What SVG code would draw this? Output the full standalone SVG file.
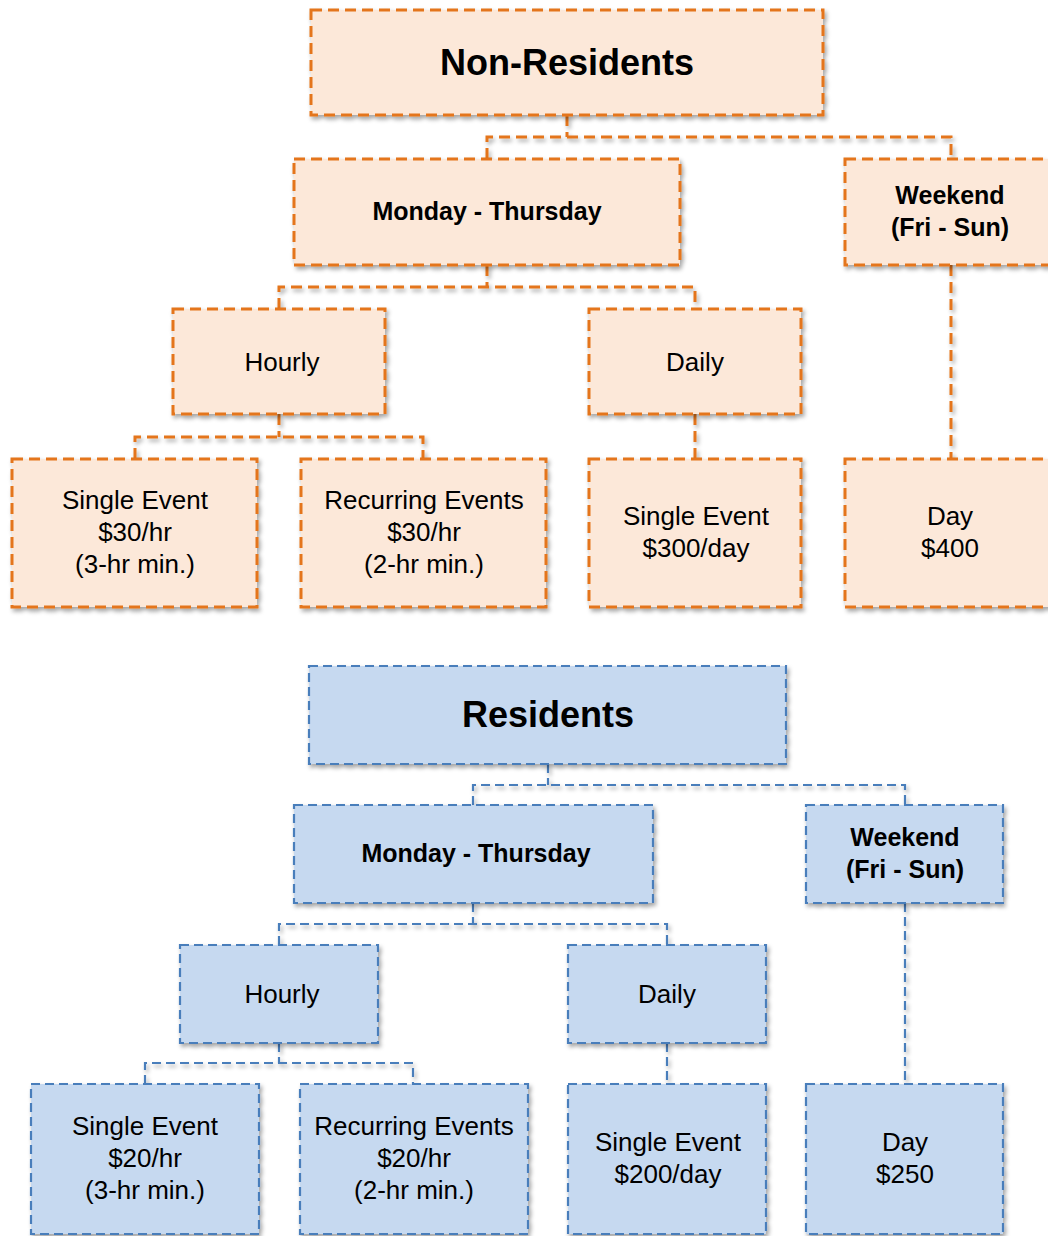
<svg xmlns="http://www.w3.org/2000/svg" width="1048" height="1236" viewBox="0 0 1048 1236">
<defs>
<filter id="sh" filterUnits="userSpaceOnUse" x="0" y="0" width="1048" height="1236">
<feDropShadow dx="2" dy="3" stdDeviation="2" flood-color="#000" flood-opacity="0.35"/>
</filter>
<style>
.o{fill:#FCE8D9;stroke:#E4741A;stroke-width:3;stroke-dasharray:11 6;filter:url(#sh)}
.b{fill:#C6D9F0;stroke:#4A7EBB;stroke-width:2.2;stroke-dasharray:9 5;filter:url(#sh)}
.oc{fill:none;stroke:#E4741A;stroke-width:3;stroke-dasharray:11 6;filter:url(#sh)}
.bc{fill:none;stroke:#4A7EBB;stroke-width:2.2;stroke-dasharray:9 5;filter:url(#sh)}
text{font-family:"Liberation Sans",Arial,sans-serif;fill:#000;text-anchor:middle;font-size:26px}
.t{font-size:36px;font-weight:bold}
.h{font-weight:bold;font-size:25px}
</style>
</defs>
<rect width="1048" height="1236" fill="#fff"/>
<g id="connectors">
<path class="oc" d="M567,115 V137 M487,159 V137 H951 V159"/>
<path class="oc" d="M487,265 V287 M279,309 V287 H695 V309"/>
<path class="oc" d="M279,414 V437 M135,459 V437 H423 V459"/>
<path class="oc" d="M695,414 V459"/>
<path class="oc" d="M951,265 V459"/>
<path class="bc" d="M548,764 V785 M473,805 V785 H905 V805"/>
<path class="bc" d="M473,903 V924 M279,945 V924 H667 V945"/>
<path class="bc" d="M279,1043 V1063 M145,1084 V1063 H413 V1084"/>
<path class="bc" d="M667,1043 V1084"/>
<path class="bc" d="M905,903 V1084"/>
</g>
<g id="nonres"><rect class="o" x="311" y="10" width="512" height="105"/><text class="t" x="567" y="75">Non-Residents</text></g>
<g id="o-monthu"><rect class="o" x="294" y="159" width="386" height="106"/><text class="h" x="487" y="220">Monday - Thursday</text></g>
<g id="o-weekend"><rect class="o" x="845" y="159" width="212" height="106"/><text class="h" x="950" y="204">Weekend</text><text class="h" x="950" y="236">(Fri - Sun)</text></g>
<g id="o-hourly"><rect class="o" x="173" y="309" width="212" height="105"/><text x="282" y="371">Hourly</text></g>
<g id="o-daily"><rect class="o" x="589" y="309" width="212" height="105"/><text x="695" y="371">Daily</text></g>
<g id="o-single"><rect class="o" x="12" y="459" width="245" height="148"/><text x="135" y="509">Single Event</text><text x="135" y="541">$30/hr</text><text x="135" y="573">(3-hr min.)</text></g>
<g id="o-recur"><rect class="o" x="301" y="459" width="245" height="148"/><text x="424" y="509">Recurring Events</text><text x="424" y="541">$30/hr</text><text x="424" y="573">(2-hr min.)</text></g>
<g id="o-singleday"><rect class="o" x="589" y="459" width="212" height="148"/><text x="696" y="525">Single Event</text><text x="696" y="557">$300/day</text></g>
<g id="o-day"><rect class="o" x="845" y="459" width="212" height="148"/><text x="950" y="525">Day</text><text x="950" y="557">$400</text></g>

<g id="res"><rect class="b" x="309" y="666" width="477" height="98"/><text class="t" x="548" y="727">Residents</text></g>
<g id="b-monthu"><rect class="b" x="294" y="805" width="359" height="98"/><text class="h" x="476" y="862">Monday - Thursday</text></g>
<g id="b-weekend"><rect class="b" x="806" y="805" width="197" height="98"/><text class="h" x="905" y="846">Weekend</text><text class="h" x="905" y="878">(Fri - Sun)</text></g>
<g id="b-hourly"><rect class="b" x="180" y="945" width="198" height="98"/><text x="282" y="1003">Hourly</text></g>
<g id="b-daily"><rect class="b" x="568" y="945" width="198" height="98"/><text x="667" y="1003">Daily</text></g>
<g id="b-single"><rect class="b" x="31" y="1084" width="228" height="150"/><text x="145" y="1135">Single Event</text><text x="145" y="1167">$20/hr</text><text x="145" y="1199">(3-hr min.)</text></g>
<g id="b-recur"><rect class="b" x="300" y="1084" width="228" height="150"/><text x="414" y="1135">Recurring Events</text><text x="414" y="1167">$20/hr</text><text x="414" y="1199">(2-hr min.)</text></g>
<g id="b-singleday"><rect class="b" x="568" y="1084" width="198" height="150"/><text x="668" y="1151">Single Event</text><text x="668" y="1183">$200/day</text></g>
<g id="b-day"><rect class="b" x="806" y="1084" width="197" height="150"/><text x="905" y="1151">Day</text><text x="905" y="1183">$250</text></g>
</svg>
